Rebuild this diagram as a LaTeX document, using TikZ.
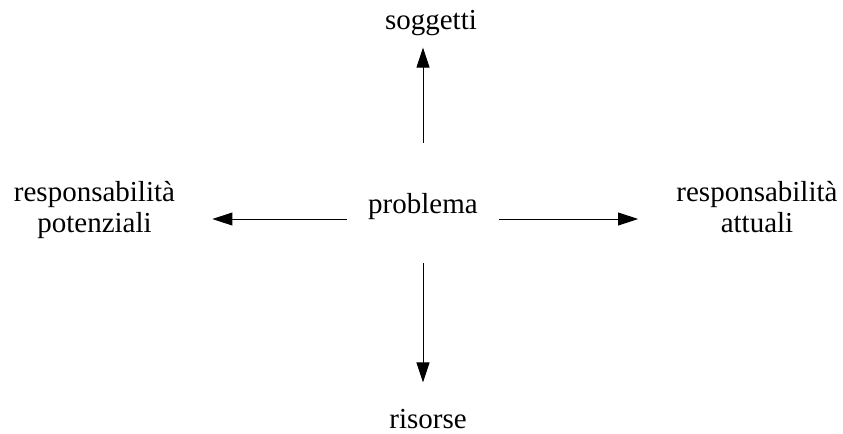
\documentclass[tikz,border=0pt]{standalone}
\usepackage{fontspec}
\setmainfont{Liberation Serif}
\usetikzlibrary{arrows.meta, positioning}

\begin{document}
\begin{tikzpicture}[
    x=0.5pt, y=-0.5pt,
    lbl/.style={inner sep=0pt, font=\fontsize{14.5}{15.5}\selectfont, align=center},
    arr/.style={-{Triangle[length=10pt, width=6.5pt]}, line width=0.5pt},
  ]
    \useasboundingbox (0,0) rectangle (843,434);

    \node[lbl, minimum width=76pt, minimum height=60pt,
          text height=10pt, text depth=0pt] (prob) at (423,203) {problema};
    \node[lbl, anchor=base] (sogg) at (431,29) {soggetti};
    \node[lbl, anchor=base] (ris) at (428,428) {risorse};
    \node[lbl] (rpot) at (94.5,210.5) {responsabilità\\potenziali};
    \node[lbl] (ratt) at (757,207.5) {responsabilità\\attuali};

    \draw[arr, shorten >=6pt] (prob.north) -- (prob.north |- sogg.south);
    \draw[arr, shorten >=13pt] (prob.south) -- (prob.south |- ris.north);
    \draw[arr, shorten >=18.5pt] ([yshift=-8pt]prob.west) -- ([yshift=-8pt]prob.west -| rpot.east);
    \draw[arr, shorten >=19pt] ([yshift=-8pt]prob.east) -- ([yshift=-8pt]prob.east -| ratt.west);
  \end{tikzpicture}
\end{document}
